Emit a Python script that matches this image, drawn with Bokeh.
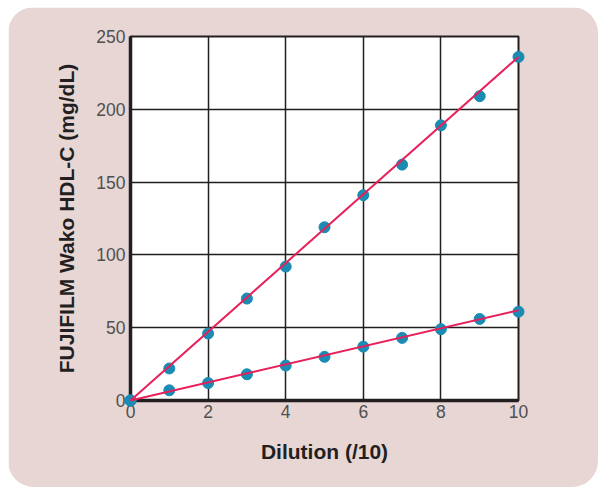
from bokeh.plotting import figure
from bokeh.models import Range1d, FixedTicker
from bokeh.embed import file_html
from bokeh.resources import INLINE

# Data
dilution = [0, 1, 2, 3, 4, 5, 6, 7, 8, 9, 10]
high_sample = [0, 22, 46, 70, 92, 119, 141, 162, 189, 209, 236]
low_sample = [0, 7, 12, 18, 24, 30, 37, 43, 49, 56, 61]
fit_x = [0, 10]
high_fit = [0, 236]
low_fit = [0, 62]
x_ticks = [0, 2, 4, 6, 8, 10]
y_ticks = [0, 50, 100, 150, 200, 250]

PANEL = "#e7d6d4"
INK = "#231f20"
DOT = "#1a8bb3"
LINE = "#e8205a"
FONT = "Liberation Sans"

p = figure(width=590, height=480, output_backend="svg", toolbar_location=None,
           x_range=Range1d(0, 10), y_range=Range1d(0, 250),
           min_border_left=122, min_border_right=80, min_border_top=29, min_border_bottom=87)
p.styles = {"border-radius": "26px", "overflow": "hidden", "margin": "7px 0 0 8px"}
p.border_fill_color = PANEL
p.background_fill_color = "white"
p.outline_line_color = INK
p.outline_line_width = 2

for ax, ticks in ((p.xaxis[0], x_ticks), (p.yaxis[0], y_ticks)):
    ax.ticker = FixedTicker(ticks=ticks)
    ax.axis_line_color = INK
    ax.axis_line_width = 3.5
    ax.major_tick_line_color = None
    ax.minor_tick_line_color = None
    ax.major_tick_out = 0
    ax.major_tick_in = 0
    ax.major_label_text_font = FONT
    ax.major_label_text_font_size = "17.5px"
    ax.major_label_text_color = "#505050"
    ax.axis_label_text_font = FONT
    ax.axis_label_text_font_size = "21px"
    ax.axis_label_text_font_style = "bold"
    ax.axis_label_text_color = INK

p.xaxis.axis_label = "Dilution (/10)"
p.yaxis.axis_label = "FUJIFILM Wako HDL-C (mg/dL)"
p.xaxis.major_label_standoff = 4
p.yaxis.major_label_standoff = 5
p.xaxis.axis_label_standoff = 19
p.yaxis.axis_label_standoff = 15

p.grid.grid_line_color = INK
p.grid.grid_line_width = 1.5

p.scatter(dilution, high_sample, size=11, color=DOT, level="overlay")
p.scatter(dilution, low_sample, size=11, color=DOT, level="overlay")
p.line(fit_x, high_fit, line_color=LINE, line_width=2, level="overlay")
p.line(fit_x, low_fit, line_color=LINE, line_width=2, level="overlay")

open("out.html", "w").write(file_html(p, INLINE))
